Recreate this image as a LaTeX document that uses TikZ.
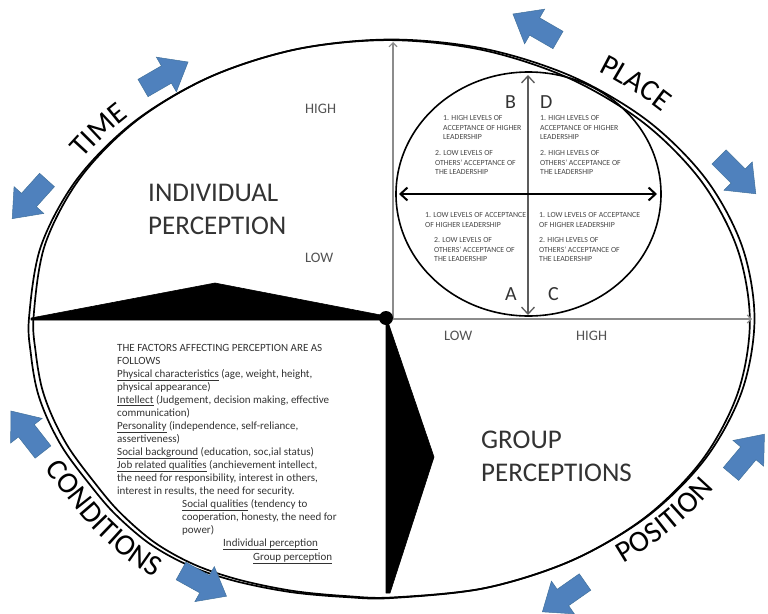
\documentclass[tikz,border=0pt]{standalone}
\usepackage{fontspec}
\setmainfont{Carlito}
\usetikzlibrary{arrows.meta,decorations.text}

\definecolor{officeblue}{HTML}{4F81BD}
\definecolor{officeblueline}{HTML}{41719C}
\definecolor{inkgray}{HTML}{333333}
\definecolor{axisgray}{HTML}{8C8C8C}

\newcommand\rimfont{\fontsize{30}{30}\selectfont}

\tikzset{
  rim/.style={line width=1.7pt, black},
  wedge/.style={fill=black, draw=black, line width=0.6pt, line join=round},
  axis/.style={axisgray, line width=1.1pt, -{Straight Barb[length=4pt,width=8pt]}},
  quadaxis/.style={line width=#1, {Straight Barb[length=7pt,width=13pt]}-{Straight Barb[length=7pt,width=13pt]}},
  bigtext/.style={font=\fontsize{27}{33}\selectfont, text=inkgray, align=left, inner sep=0pt, anchor=north west},
  scalelabel/.style={font=\fontsize{14.5}{15}\selectfont, text=inkgray!85, inner sep=0pt, anchor=base west},
  quadletter/.style={font=\fontsize{20}{20}\selectfont, text=inkgray, inner sep=0pt, anchor=base west},
  quadtext/.style={font=\fontsize{7.8}{9.5}\selectfont, text=inkgray!90, align=left, inner sep=0pt, anchor=north west},
  factortext/.style={font=\fontsize{11}{13}\selectfont, text=inkgray, align=left, inner sep=0pt, anchor=north west},
  rimlabel/.style={decorate, decoration={text along path, text align=center, text color=black}},
  blockarrow/.pic={
    \path[fill=officeblue, draw=officeblueline, line width=0.5pt, line join=miter]
      (0,-10) -- (27,-10) -- (27,-20) -- (52,0) -- (27,20) -- (27,10) -- (0,10) -- cycle;}
}

\begin{document}
\begin{tikzpicture}[x=1pt,y=-1pt]
\useasboundingbox (0,0) rectangle (768,613);
\fill[white] (0,0) rectangle (768,613);

% ---- outer rim: a closed curve and a copy squeezed slightly along a tilted axis
\draw[rim] plot[smooth cycle, tension=0.55] coordinates {
  (754.5,318.5) (742.1,246.3) (705.9,179) (648.2,121.2) (573,76.9) (485.5,49)
  (391.5,39.5) (297.5,49) (210,76.9) (134.8,121.2) (77.1,179) (40.9,246.3)
  (29,318) (31,355) (37,390) (48,420) (64,450) (87,481) (114,513) (150,544)
  (190,566) (235,581) (290,592) (345,597) (392,598) (485.5,588) (573,560)
  (648.2,515.8) (705.9,458) (742.1,390.7)};
\begin{scope}[cm={0.9872,-0.0053,-0.0053,0.9978,(3.32pt,1.37pt)}]
\draw[rim] plot[smooth cycle, tension=0.55] coordinates {
  (754.5,318.5) (742.1,246.3) (705.9,179) (648.2,121.2) (573,76.9) (485.5,49)
  (391.5,39.5) (297.5,49) (210,76.9) (134.8,121.2) (77.1,179) (40.9,246.3)
  (29,318) (31,355) (37,390) (48,420) (64,450) (87,481) (114,513) (150,544)
  (190,566) (235,581) (290,592) (345,597) (392,598) (485.5,588) (573,560)
  (648.2,515.8) (705.9,458) (742.1,390.7)};
\end{scope}

% ---- labels around the rim
\path[rimlabel, decoration={text={|\rimfont|TIME}}]
  plot[domain=161.5:121.5, samples=40, variable=\t] ({391.5+371*cos(\t)},{318.5-287*sin(\t)});
\path[rimlabel, decoration={text={|\rimfont|PLACE}}]
  plot[domain=70:30, samples=40, variable=\t] ({391.5+379*cos(\t)},{318.5-295*sin(\t)});
\path[rimlabel, decoration={text={|\rimfont|POSITION}}]
  plot[domain=297:337, samples=40, variable=\t] ({391.5+389*cos(\t)},{318.5-305*sin(\t)});
\path[rimlabel, decoration={text={|\rimfont|CONDITIONS}}]
  plot[smooth, tension=0.6] coordinates {(11.9,396.6) (24.3,430.7) (42.1,464) (66.6,497.2)
  (95.6,531.4) (135.1,565.3) (179.6,589.8) (228.4,606.2)};

% ---- blue block arrows
\pic[rotate=30]  at (143,88)  {blockarrow};
\pic[rotate=228] at (47,180)  {blockarrow};
\pic[rotate=150] at (558,40)  {blockarrow};
\pic[rotate=-45] at (719,157) {blockarrow};
\pic[rotate=128] at (43,452)  {blockarrow};
\pic[rotate=-29] at (181,571) {blockarrow};
\pic[rotate=50]  at (731,474) {blockarrow};
\pic[rotate=215] at (585,582) {blockarrow};

% ---- hub, axes and black wedges
\coordinate (hub) at (386,318);
\coordinate (vaxisfoot) at (393,318);
\coordinate (vaxistop) at (393,42);
\coordinate (haxisend) at (752,319);
\coordinate (haxisstart) at (393,319);
\draw[axis] (vaxisfoot) -- (vaxistop);
\draw[axis] (haxisstart) -- (haxisend);

\path[wedge] (31,318) -- (215,283) -- (386,316) -- (386,320) -- (31,320) -- cycle;
\path[wedge] (388,322) -- (434,457) -- (390,593) -- (386,593) -- (386,322) -- cycle;
\fill (hub) circle[radius=7];

% ---- leadership quadrant circle
\draw[line width=1.6pt] (528.5,194) ellipse [x radius=132.5, y radius=122];
\coordinate (qtop) at (528,75);
\coordinate (qbottom) at (528,315);
\coordinate (qleft) at (399,194);
\coordinate (qright) at (657,194);
\draw[quadaxis=1.3pt, draw=inkgray!80] (qbottom) -- (qtop);
\draw[quadaxis=2pt] (qleft) -- (qright);

\node[quadletter] (lb) at (505,108) {B};
\node[quadletter] (ld) at (540,108) {D};
\node[quadletter] (la) at (505,300) {A};
\node[quadletter] (lc) at (548,300) {C};

\node[quadtext] (b1) at (443,115.5) {1. HIGH LEVELS OF\\ACCEPTANCE OF HIGHER\\LEADERSHIP};
\node[quadtext] (b2) at (435,150.5) {2. LOW LEVELS OF\\OTHERS' ACCEPTANCE OF\\THE LEADERSHIP};
\node[quadtext] (d1) at (540,115.5) {1. HIGH LEVELS OF\\ACCEPTANCE OF HIGHER\\LEADERSHIP};
\node[quadtext] (d2) at (540,150.5) {2. HIGH LEVELS OF\\OTHERS' ACCEPTANCE OF\\THE LEADERSHIP};
\node[quadtext] (a1) at (425,212.5) {1. LOW LEVELS OF ACCEPTANCE\\OF HIGHER LEADERSHIP};
\node[quadtext] (a2) at (434,237.5) {2. LOW LEVELS OF\\OTHERS' ACCEPTANCE OF\\THE LEADERSHIP};
\node[quadtext] (c1) at (539,212.5) {1. LOW LEVELS OF ACCEPTANCE\\OF HIGHER LEADERSHIP};
\node[quadtext] (c2) at (539,237.5) {2. HIGH LEVELS OF\\OTHERS' ACCEPTANCE OF\\THE LEADERSHIP};

% ---- scale labels
\node[scalelabel] (vhigh) at (305,113) {HIGH};
\node[scalelabel] (vlow)  at (305,262) {LOW};
\node[scalelabel] (hlow)  at (444,340) {LOW};
\node[scalelabel] (hhigh) at (576,340) {HIGH};

% ---- sector titles
\node[bigtext] (indiv) at (148,184) {INDIVIDUAL\\PERCEPTION};
\node[bigtext] (group) at (481,431) {GROUP\\PERCEPTIONS};

% ---- list of factors
\node[factortext] (factors) at (117,344) {THE FACTORS AFFECTING PERCEPTION ARE AS\\
FOLLOWS\\
\underline{Physical characteristics} (age, weight, height,\\
physical appearance)\\
\underline{Intellect} (Judgement, decision making, effective\\
communication)\\
\underline{Personality} (independence, self-reliance,\\
assertiveness)\\
\underline{Social background} (education, soc,ial status)\\
\underline{Job related qualities} (anchievement intellect,\\
the need for responsibility, interest in others,\\
interest in results, the need for security.};
\node[factortext] (social) at (182,499) {\underline{Social qualities} (tendency to\\
cooperation, honesty, the need for\\
power)};
\node[factortext] (indline) at (223,538.5) {\underline{Individual perception}};
\node[factortext] (grpline) at (253,552.5) {\underline{Group perception}};
\end{tikzpicture}
\end{document}
